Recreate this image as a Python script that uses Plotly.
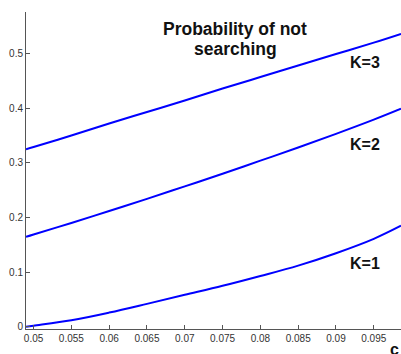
import plotly.graph_objects as go

# search cost c and probability of not searching for K = 1, 2, 3
c = [0.049, 0.050, 0.055, 0.060, 0.065, 0.070, 0.075, 0.080, 0.085, 0.090, 0.095, 0.0986]
p_k1 = [0.000, 0.002, 0.012, 0.026, 0.042, 0.0585, 0.075, 0.093, 0.112, 0.1347, 0.161, 0.185]
p_k2 = [0.1645, 0.169, 0.190, 0.212, 0.234, 0.257, 0.280, 0.304, 0.328, 0.353, 0.379, 0.399]
p_k3 = [0.325, 0.329, 0.350, 0.372, 0.393, 0.414, 0.436, 0.457, 0.478, 0.499, 0.520, 0.536]

x_ticks = [0.05, 0.055, 0.06, 0.065, 0.07, 0.075, 0.08, 0.085, 0.09, 0.095]
x_tick_text = ["0.05", "0.055", "0.06", "0.065", "0.07", "0.075", "0.08", "0.085", "0.09", "0.095"]
y_ticks = [0, 0.1, 0.2, 0.3, 0.4, 0.5]
y_tick_text = ["0", "0.1", "0.2", "0.3", "0.4", "0.5"]

series = [("K=1", p_k1, 0.115), ("K=2", p_k2, 0.334), ("K=3", p_k3, 0.484)]

fig = go.Figure()
for name, vals, _ in series:
    fig.add_trace(go.Scatter(x=c, y=vals, mode="lines", name=name,
                             line=dict(color="#0000ff", width=2), line_shape="spline"))

family = "Liberation Sans, Arial, sans-serif"
label_font = dict(family=family, size=16, color="#111")
title_font = dict(family=family, size=17.5, color="#111")
for name, _, ylab in series:
    fig.add_annotation(x=0.0939, y=ylab, text="<b>%s</b>" % name, showarrow=False, font=label_font)

fig.add_annotation(x=0.0767, y=0.544, text="<b>Probability of not</b>", showarrow=False, font=title_font)
fig.add_annotation(x=0.0767, y=0.509, text="<b>searching</b>", showarrow=False, font=title_font)
# x-axis name in the bottom-right corner
fig.add_annotation(x=1.0, xref="paper", y=0, yref="paper", yshift=-31,
                   text="<b>c</b>", showarrow=False, font=label_font,
                   xanchor="right", yanchor="bottom")

axis_font = dict(family=family, size=10, color="#333")
fig.update_layout(
    width=401, height=354,
    margin=dict(l=26, r=0, t=12, b=25),
    paper_bgcolor="white", plot_bgcolor="white",
    showlegend=False,
    xaxis=dict(range=[0.049, 0.0986], tickvals=x_ticks, ticktext=x_tick_text,
               ticks="inside", ticklen=4, tickcolor="#555", showline=True,
               linecolor="#555", linewidth=1, showgrid=False, zeroline=False,
               tickfont=axis_font),
    yaxis=dict(range=[-0.004, 0.576], tickvals=y_ticks, ticktext=y_tick_text,
               ticks="inside", ticklen=4, tickcolor="#555", showline=True,
               linecolor="#555", linewidth=1, showgrid=False, zeroline=False,
               tickfont=axis_font),
)

fig.write_html("out.html")
